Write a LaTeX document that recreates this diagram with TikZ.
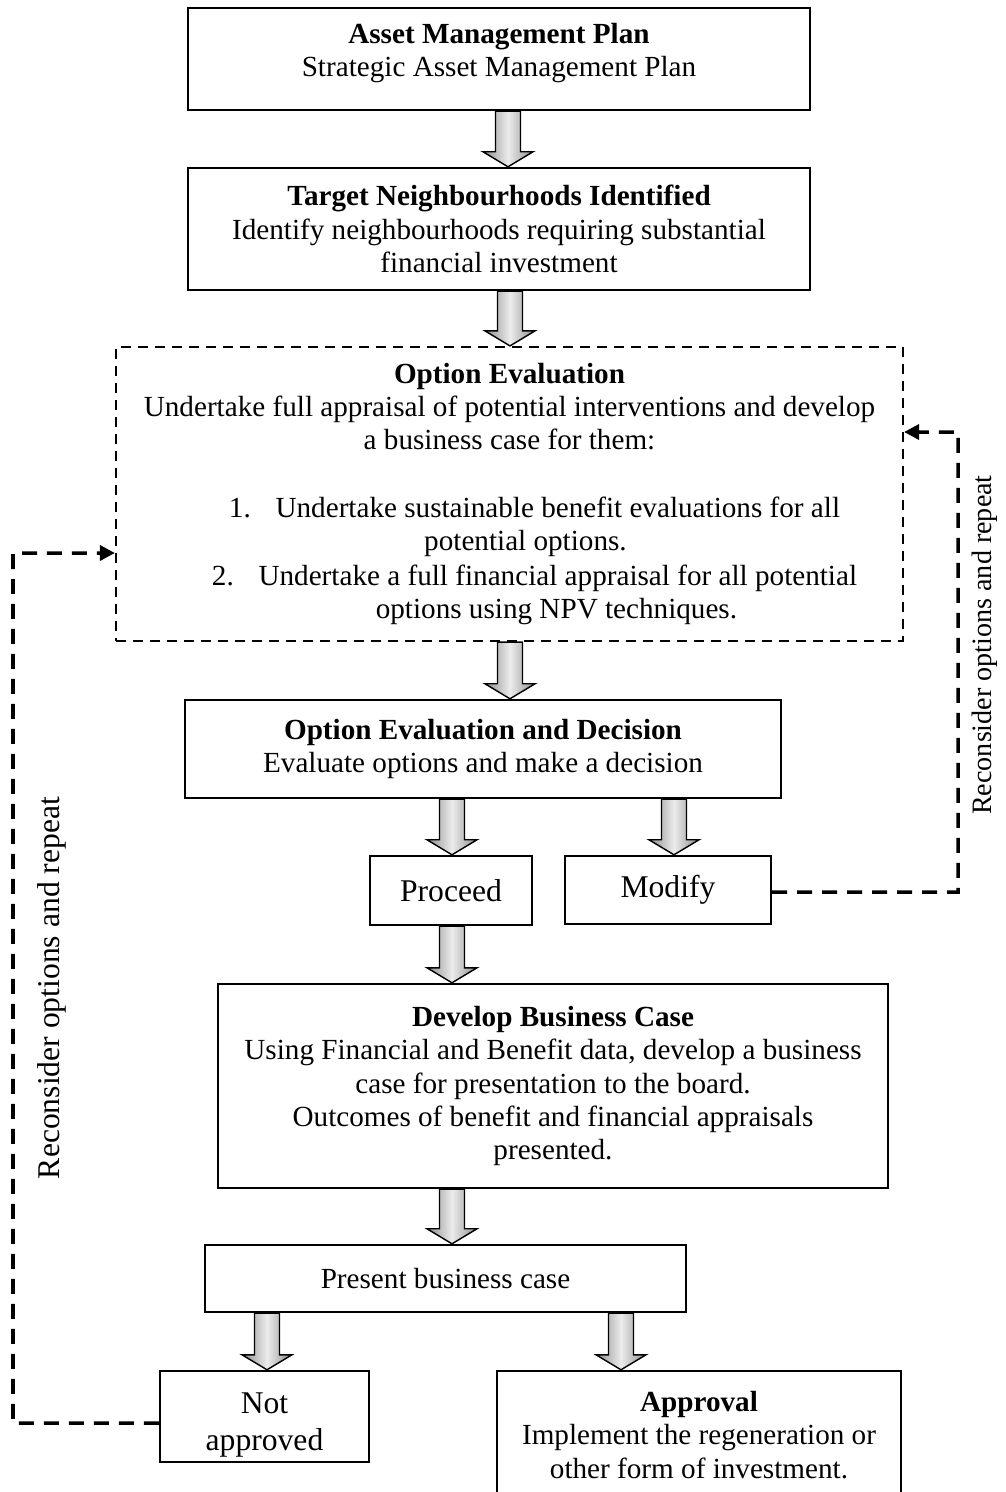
\documentclass[tikz,border=0pt]{standalone}
\usepackage{fontspec}
\setmainfont{Liberation Serif}
\usetikzlibrary{arrows.meta,calc}
\tikzset{
  box/.style={draw=black, line width=1.4pt, inner sep=0pt, align=center,
    font=\fontsize{16.6pt}{18.9pt}\selectfont},
  txt/.style={inner sep=0pt, align=center, font=\fontsize{16.6pt}{18.9pt}\selectfont},
  bigtxt/.style={inner sep=0pt, align=center, font=\fontsize{18pt}{21.6pt}\selectfont},
  dbox/.style={draw=black, line width=1.3pt, dash pattern=on 0.2cm off 0.14cm,
    inner sep=0pt, align=center, font=\fontsize{16.6pt}{18.9pt}\selectfont},
  bigbox/.style={box, font=\fontsize{18pt}{21.6pt}\selectfont},
  blockarrow/.style={draw=black, line width=0.8pt, left color=gray!90,
    right color=gray!90, middle color=gray!15},
  conn/.style={draw=black, line width=2pt, dash pattern=on 0.3cm off 0.2cm,
    -{Triangle[length=0.3cm,width=0.3cm]}},
  lab/.style={rotate=90, font=\fontsize{18pt}{21pt}\selectfont},
  rlab/.style={rotate=90, font=\fontsize{16pt}{19pt}\selectfont}
}
\newcommand\blockarr[3]{%
  \path[blockarrow] let \p1=(#1), \p2=(#2), \p3=(#3,0) in
    (\x3-0.25cm,\y1) -- (\x3+0.25cm,\y1) -- (\x3+0.25cm,\y2+0.3cm)
    -- (\x3+0.5cm,\y2+0.3cm) -- (\x3,\y2) -- (\x3-0.5cm,\y2+0.3cm)
    -- (\x3-0.25cm,\y2+0.3cm) -- cycle;}
\begin{document}
\begin{tikzpicture}[x=0.02cm,y=-0.02cm]
\useasboundingbox (0,0) rectangle (1006,1492);
\node[box, minimum width=12.44cm, minimum height=2.04cm] (amp) at (499,59) {};
\node[txt] (amptxt) at (499,53)
  {\textbf{Asset Management Plan}\\Strategic Asset Management Plan};
\node[box, minimum width=12.44cm, minimum height=2.44cm] (tn) at (499,229)
  {\textbf{Target Neighbourhoods Identified}\\Identify neighbourhoods requiring substantial\\financial investment};
\node[dbox, minimum width=15.74cm, minimum height=5.88cm] (ob) at (509.5,494)
  {\textbf{Option Evaluation}\\Undertake full appraisal of potential interventions and develop\\a business case for them:\\[0.69cm]
   \hspace*{1.0cm}1.\hspace{0.85em}Undertake sustainable benefit evaluations for all\\
   \hspace*{0.64cm}potential options.\\[1pt]
   \hspace*{1.0cm}2.\hspace{0.85em}Undertake a full financial appraisal for all potential\\
   \hspace*{1.88cm}options using NPV techniques.};
\node[box, minimum width=11.92cm, minimum height=1.96cm] (oed) at (483,749)
  {\textbf{Option Evaluation and Decision}\\Evaluate options and make a decision};
\node[bigbox, minimum width=3.24cm, minimum height=1.38cm] (pro) at (451,890.5) {Proceed};
\node[bigbox, minimum width=4.12cm, minimum height=1.36cm] (mod) at (668,890) {Modify};
\node[box, minimum width=13.4cm, minimum height=4.08cm] (dbc) at (553,1086)
  {\textbf{Develop Business Case}\\Using Financial and Benefit data, develop a business\\case for presentation to the board.\\Outcomes of benefit and financial appraisals\\presented.};
\node[box, minimum width=9.62cm, minimum height=1.34cm] (pbc) at (445.5,1278.5) {Present business case};
\node[bigbox, minimum width=4.18cm, minimum height=1.82cm] (na) at (264.5,1416.5) {};
\node[bigtxt] (natxt) at (264.5,1425) {Not\\approved};
\node[box, minimum width=8.08cm, minimum height=2.56cm] (app) at (699,1435)
  {\textbf{Approval}\\Implement the regeneration or\\other form of investment.};
% block arrows
\blockarr{amp.south}{tn.north}{508}
\blockarr{tn.south}{ob.north}{510}
\blockarr{ob.south}{oed.north}{510}
\blockarr{oed.south}{pro.north}{452}
\blockarr{oed.south}{mod.north}{674}
\blockarr{pro.south}{dbc.north}{452}
\blockarr{dbc.south}{pbc.north}{452}
\blockarr{pbc.south}{na.north}{267}
\blockarr{pbc.south}{app.north}{621}
% dashed feedback connectors
\coordinate (lc1) at (13,1423);
\coordinate (lc2) at (13,553);
\coordinate (rc1) at (958,892);
\coordinate (rc2) at (958,432);
\draw[conn] ([yshift=-0.13cm]na.west) -- (lc1) -- (lc2) -- (lc2 -| ob.west);
\draw[conn] ([yshift=-0.04cm]mod.east) -- (rc1) -- (rc2) -- (rc2 -| ob.east);
\node[lab] (ll) at (52,988) {Reconsider options and repeat};
\node[rlab] (rl) at (985,645) {Reconsider options and repeat};
\end{tikzpicture}
\end{document}
